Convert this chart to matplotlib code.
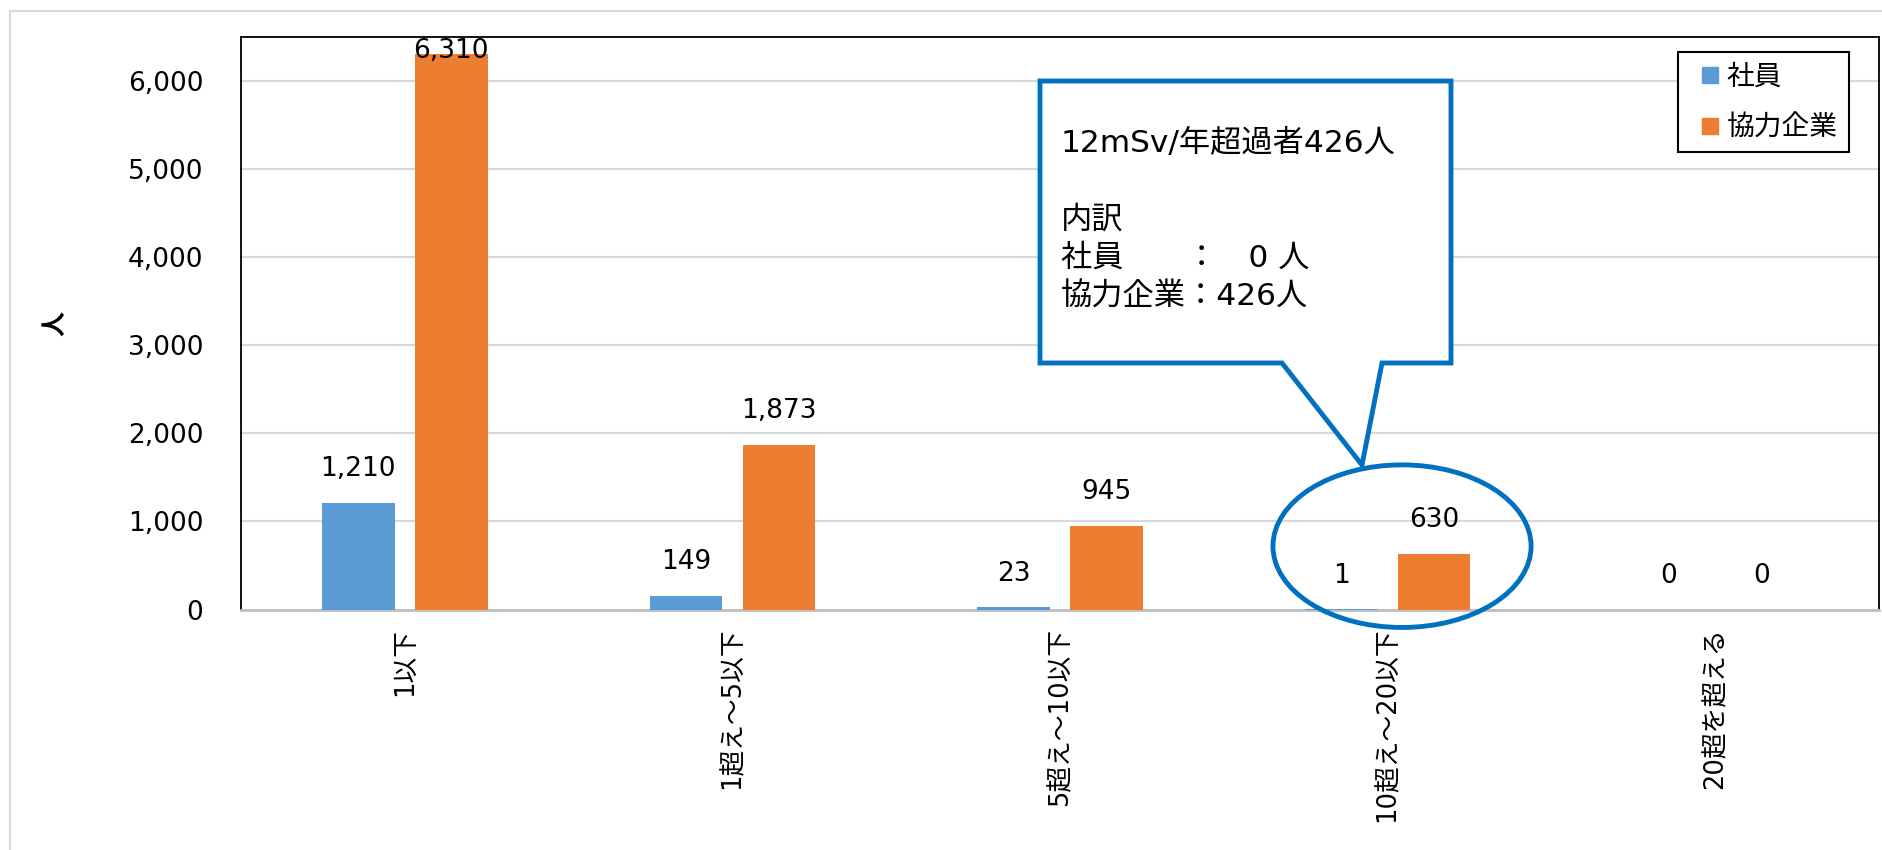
import matplotlib
matplotlib.use("Agg")
import matplotlib.pyplot as plt
from matplotlib.patches import Polygon, Ellipse
from matplotlib.lines import Line2D
import numpy as np

plt.rcParams['font.family'] = ['DejaVu Sans', 'Noto Sans CJK JP']

# data
categories = ["1以下", "1超え～5以下", "5超え～10以下", "10超え～20以下", "20超を超える"]
shain = [1210, 149, 23, 1, 0]
kyoryoku = [6310, 1873, 945, 630, 0]
series_names = ["社員", "協力企業"]
callout_lines = ["12mSv/年超過者426人", "", "内訳", "社員　　：　0 人", "協力企業：426人"]

blue = "#5B9BD5"
orange = "#ED7D31"
callout_blue = "#0070C0"

W, H = 1883, 850
fig = plt.figure(figsize=(W / 100, H / 100), dpi=100)

def fx(px):
    return px / W

def fy(py):
    return 1 - py / H

# outer light gray chart frame
fig.add_artist(Line2D([fx(10), fx(10)], [fy(11), 0], color="#d9d9d9", lw=1.5))
fig.add_artist(Line2D([fx(10), 1], [fy(11), fy(11)], color="#d9d9d9", lw=1.5))

ax = fig.add_axes([fx(241), fy(609.5), (1879 - 241) / W, (609.5 - 37) / H])

x = np.arange(len(categories))
bw = 0.222
off = 0.142
ax.bar(x - off, shain, bw, color=blue, zorder=3)
ax.bar(x + off, kyoryoku, bw, color=orange, zorder=3)

ax.set_xlim(-0.5, len(categories) - 0.5)
ax.set_ylim(0, 6500)
ax.set_yticks(range(0, 7000, 1000))
ax.set_yticklabels([f"{v:,}" for v in range(0, 7000, 1000)])
ax.yaxis.grid(True, color="#d9d9d9", lw=1.5, zorder=0)
ax.set_axisbelow(True)

ax.set_xticks(x)
ax.set_xticklabels(categories, rotation=90, va="top", ha="center")
ax.tick_params(axis="x", length=0, pad=13, labelsize=18.5)
ax.tick_params(axis="y", length=0, pad=27, labelsize=19)

for s in ["left", "top", "right"]:
    ax.spines[s].set_color("black")
    ax.spines[s].set_linewidth(1.3)
ax.spines["bottom"].set_color("#bfbfbf")
ax.spines["bottom"].set_linewidth(2)

ax.set_ylabel("人", rotation=90, fontsize=18, fontweight="bold")
ax.yaxis.set_label_coords(-0.106, 0.5)

# data labels
for xs, vals in [(x - off, shain), (x + off, kyoryoku)]:
    for xi, v in zip(xs, vals):
        ax.text(xi, min(v + 385, 6336), f"{v:,}", ha="center", va="center",
                fontsize=19, zorder=5)

# legend with small square markers
handles = [Line2D([], [], marker="s", ls="", markersize=12, color=blue,
                  label=series_names[0]),
           Line2D([], [], marker="s", ls="", markersize=12, color=orange,
                  label=series_names[1])]
leg = fig.legend(handles=handles, loc="upper right",
                 bbox_to_anchor=(fx(1849), fy(52)), fontsize=20,
                 fancybox=False, edgecolor="black", framealpha=1,
                 handlelength=1.5, handletextpad=-0.15,
                 labelspacing=0.8, borderpad=0.4, borderaxespad=0)
leg.get_frame().set_linewidth(1.5)

# ellipse highlighting 10-20 group
ell = Ellipse((3.044, 719), 0.788, 1846, fill=False, edgecolor=callout_blue,
              lw=3.5, clip_on=False, zorder=6)
ax.add_patch(ell)

# callout balloon
balloon = [(1040, 81), (1451, 81), (1451, 363), (1382, 363), (1362, 465),
           (1282, 363), (1040, 363)]
poly = Polygon([(fx(px), fy(py)) for px, py in balloon], closed=True,
               facecolor="white", edgecolor=callout_blue, lw=3.5,
               transform=fig.transFigure, zorder=7)
fig.add_artist(poly)
for i, line in enumerate(callout_lines):
    fig.text(fx(1061), fy(143 + 38.5 * i), line, fontsize=22.5,
             ha="left", va="center", zorder=8)

fig.savefig("out.png", dpi=100)
